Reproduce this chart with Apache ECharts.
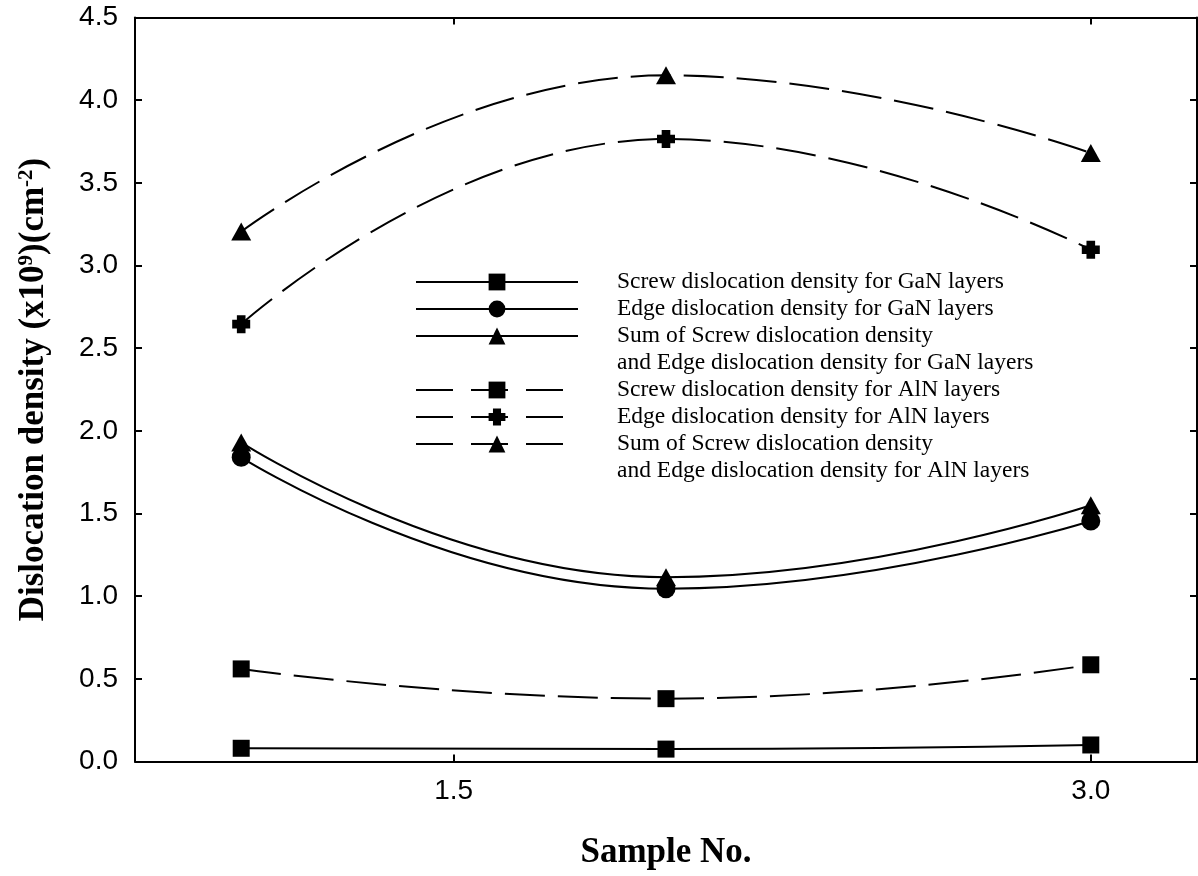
<!DOCTYPE html>
<html>
<head>
<meta charset="utf-8">
<script src="https://cdn.jsdelivr.net/npm/echarts@6/dist/echarts.min.js"></script>
<style>
  html, body { margin: 0; padding: 0; background: #fff; }
  #chart { width: 1198px; height: 876px; }
</style>
</head>
<body>
<div id="chart"></div>
<script>
// ---- data ----
const sampleNo = [1, 2, 3];
const screwGaN = [0.08, 0.075, 0.10];
const edgeGaN  = [1.84, 1.045, 1.455];
const sumGaN   = [1.93, 1.115, 1.55];
const screwAlN = [0.56, 0.38, 0.585];
const edgeAlN  = [2.645, 3.765, 3.095];
const sumAlN   = [3.205, 4.15, 3.68];
const xTickValues = [1.5, 3.0];

const nameScrewGaN = 'Screw dislocation density for GaN layers';
const nameEdgeGaN  = 'Edge dislocation density for GaN layers';
const nameSumGaN   = 'Sum of Screw dislocation density';
const nameSumGaN2  = 'and Edge dislocation density for GaN layers';
const nameScrewAlN = 'Screw dislocation density for AlN layers';
const nameEdgeAlN  = 'Edge dislocation density for AlN layers';
const nameSumAlN   = 'Sum of Screw dislocation density ';
const nameSumAlN2  = 'and Edge dislocation density for AlN layers';

const plusPath = 'path://M2.6,0 H7.4 V2.6 H10 V7.4 H7.4 V10 H2.6 V7.4 H0 V2.6 H2.6 Z';
const DASH = [40, 13];
const LEG_DASH = [37, 18];

function pts(ys) { return sampleNo.map((x, i) => [x, ys[i]]); }

function mk(name, ys, symbol, size, dashed) {
  return {
    type: 'line', name: name, data: pts(ys), smooth: true,
    symbol: symbol, symbolSize: size, symbolKeepAspect: true,
    showSymbol: true,
    itemStyle: { color: '#000' },
    lineStyle: { color: '#000', width: 2, type: dashed ? DASH : 'solid' },
    emphasis: { disabled: true }, animation: false
  };
}

const chart = echarts.init(document.getElementById('chart'), null, { renderer: 'canvas' });

const tickStyle = { show: true, inside: true, length: 7, lineStyle: { color: '#000', width: 2 } };
const axisLineStyle = { show: true, onZero: false, lineStyle: { color: '#000', width: 2 } };
const labelFont = { color: '#000', fontFamily: 'Liberation Sans', fontSize: 28 };

chart.setOption({
  backgroundColor: '#fff',
  animation: false,
  grid: { left: 135, right: 1, top: 17.5, bottom: 114.5, containLabel: false },
  xAxis: [
    {
      type: 'value', min: 0.75, max: 3.25, position: 'bottom',
      axisLine: axisLineStyle,
      axisTick: Object.assign({}, tickStyle, { customValues: xTickValues }),
      axisLabel: Object.assign({ customValues: xTickValues, margin: 16,
        formatter: v => Number(v).toFixed(1) }, labelFont),
      splitLine: { show: false },
      name: 'Sample No.', nameLocation: 'middle', nameGap: 74,
      nameTextStyle: { color: '#000', fontFamily: 'Liberation Serif', fontWeight: 'bold', fontSize: 35 }
    },
    {
      type: 'value', min: 0.75, max: 3.25, position: 'top',
      axisLine: axisLineStyle,
      axisTick: Object.assign({}, tickStyle, { customValues: xTickValues }),
      axisLabel: { show: false },
      splitLine: { show: false }
    }
  ],
  yAxis: [
    {
      type: 'value', min: 0, max: 4.5, interval: 0.5, position: 'left',
      axisLine: axisLineStyle,
      axisTick: tickStyle,
      axisLabel: Object.assign({ margin: 17, formatter: v => Number(v).toFixed(1) }, labelFont),
      splitLine: { show: false },
      name: '{b|Dislocation density (x10}{sup|9}{b|)(cm}{sup|-2}{b|)}',
      nameLocation: 'middle', nameGap: 84,
      nameTextStyle: {
        color: '#000',
        rich: {
          b: { fontFamily: 'Liberation Serif', fontWeight: 'bold', fontSize: 35, color: '#000' },
          sup: { fontFamily: 'Liberation Serif', fontWeight: 'bold', fontSize: 21, color: '#000', verticalAlign: 'top' }
        }
      }
    },
    {
      type: 'value', min: 0, max: 4.5, interval: 0.5, position: 'right',
      axisLine: axisLineStyle,
      axisTick: tickStyle,
      axisLabel: { show: false },
      splitLine: { show: false }
    }
  ],
  legend: {
    orient: 'vertical', left: 415, top: 268.5, padding: 0, itemGap: 0,
    itemWidth: 162, itemHeight: 21, selectedMode: false,
    textStyle: { color: '#000', fontFamily: 'Liberation Serif', fontSize: 23.5, lineHeight: 27, padding: [0, 0, 0, 34] },
    data: [
      { name: nameScrewGaN },
      { name: nameEdgeGaN },
      { name: nameSumGaN },
      { name: nameSumGaN2, icon: 'none' },
      { name: nameScrewAlN, lineStyle: { type: LEG_DASH } },
      { name: nameEdgeAlN, lineStyle: { type: LEG_DASH } },
      { name: nameSumAlN, lineStyle: { type: LEG_DASH } },
      { name: nameSumAlN2, icon: 'none' }
    ]
  },
  series: [
    mk(nameScrewGaN, screwGaN, 'rect', 17, false),
    mk(nameEdgeGaN, edgeGaN, 'circle', 19, false),
    mk(nameSumGaN, sumGaN, 'triangle', [20, 18], false),
    { type: 'line', name: nameSumGaN2, data: [], itemStyle: { color: '#000' }, lineStyle: { color: '#000' } },
    mk(nameScrewAlN, screwAlN, 'rect', 17, true),
    mk(nameEdgeAlN, edgeAlN, plusPath, 18, true),
    mk(nameSumAlN, sumAlN, 'triangle', [20, 18], true),
    { type: 'line', name: nameSumAlN2, data: [], itemStyle: { color: '#000' }, lineStyle: { color: '#000' } }
  ]
});
</script>
</body>
</html>
